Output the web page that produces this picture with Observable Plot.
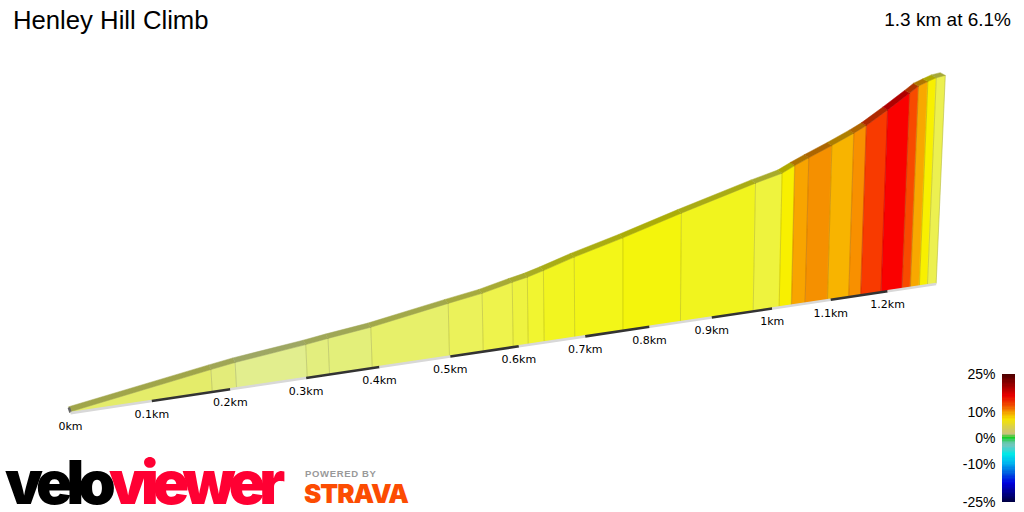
<!DOCTYPE html>
<html><head><meta charset="utf-8">
<script src="https://cdn.jsdelivr.net/npm/d3@7"></script>
<script src="https://cdn.jsdelivr.net/npm/@observablehq/plot@0.6"></script>
<style>
html,body{margin:0;padding:0;background:#fff;width:1024px;height:512px;overflow:hidden}
#root{position:relative;width:1024px;height:512px;font-family:"Liberation Sans",Arial,sans-serif}
#root>div,#root>svg{position:absolute}
#title{left:13px;top:6px;font-size:25.7px;line-height:28px;color:#000}
#sub{right:13px;top:9px;font-size:19px;line-height:22px;color:#000}
.logo{font-family:Inter,sans-serif;font-weight:900;white-space:nowrap;transform-origin:0 0}
#velo{left:5px;top:454px;font-size:60px;line-height:56px;letter-spacing:-5.9px;color:#000}
#velo span{color:#ff0033}
#pow{left:305px;top:468px;font-family:"Liberation Sans",sans-serif;font-size:9.5px;font-weight:700;line-height:12px;letter-spacing:.65px;color:#999}
#strava{left:304px;top:478px;font-size:26px;line-height:32px;letter-spacing:-1px;color:#fc4c02}
</style></head>
<body><div id="root">
<div id="title">Henley Hill Climb</div>
<div id="sub">1.3 km at 6.1%</div>
<div class="logo" id="velo">velo<span>viewer</span></div>
<div id="pow">POWERED BY</div>
<div class="logo" id="strava">STRAVA</div>
</div>
<script>
// boundaries of the profile sections (km) and elevation gained there (m)
const distanceKm = [0,.1766,.208,.3014,.3315,.39,.4988,.5476,.5916,.6139,.6378,.684,.7583,.8493,.9682,1.0118,1.0327,1.0559,1.0944,1.1314,1.1525,1.1886,1.2261,1.2411,1.2574,1.272,1.2879];
const elevationM = [0.3,8.3,9.6,12.4,13.5,15.3,20.0,21.9,24.4,25.5,27.1,30.5,35.1,41.2,48.5,50.8,53.0,55.2,58.6,62.1,64.3,69.1,74.3,76.5,77.7,78.7,79.1];
const sectionColors = ["#e4ec6a","#e3ec7a","#e2ee8e","#e3ee7e","#e3ef7a","#e7f06a","#ebf25a","#eef34c","#eef340","#f1f530","#f2f520","#f3f618","#f4f50c","#f1f41e","#eef33e","#f8f000","#f8a400","#f59000","#f8b400","#f89000","#f83a00","#fa0000","#f84a00","#f8a800","#f8f000","#ecf050"];
const tickKm = [0,.1,.2,.3,.4,.5,.6,.7,.8,.9,1,1.1,1.2];
const tickLabels = ["0km","0.1km","0.2km","0.3km","0.4km","0.5km","0.6km","0.7km","0.8km","0.9km","1km","1.1km","1.2km"];
const legendValues = [25,16.5,12.6,10,7.4,4,1.5,0.2,-1.5,-3,-6.3,-9.6,-13.5,-17.4,-25];
const legendColors = ["#4a0000","#e80000","#f05000","#f4a000","#f6e400","#d8d050","#c8c080","#10d020","#60c8a0","#70c8c0","#00e8e8","#00b8f0","#0060e0","#0000e0","#000040"];
const legendTicks = [25,10,0,-10,-25];

// view projection: far sections are foreshortened, the road tilts, verticals fan out
const foreshorten = .18, roadTilt = 46.94, fanCentre = .667, fanRate = .000368;
const P = d => d / (1 + foreshorten * d);
const Umax = P(distanceKm[distanceKm.length - 1]);
function project(d, h, back = 0) {
  const u0 = P(d), t = u0 / Umax;
  return {
    u: u0 + (u0 - fanCentre) * h * fanRate - back * (.002 + .0041 * t),
    v: roadTilt * u0 + h + back * (1.9 - .85 * t)
  };
}

const faces = [], ribbons = [], edges = [];
sectionColors.forEach((color, i) => {
  const [d0, d1, h0, h1] = [distanceKm[i], distanceKm[i + 1], elevationM[i], elevationM[i + 1]];
  const dark = d3.color(color).darker(1).formatHex();
  [project(d0, 0), project(d1, 0), project(d1, h1), project(d0, h0)]
    .forEach(p => faces.push({...p, seg: i, fill: color}));
  [project(d0, h0), project(d1, h1), project(d1, h1, 1), project(d0, h0, 1)]
    .forEach(p => ribbons.push({...p, seg: i, fill: dark}));
  const a = project(d1, 0), b = project(d1, h1);
  edges.push({u1: a.u, v1: a.v, u2: b.u, v2: b.v});
});
const capA = project(0, 0), capB = project(0, 0, 1);
const startCap = [{u1: capA.u, v1: capA.v, u2: capB.u, v2: capB.v}];

const road = tickKm.flatMap((km, i) => {
  const end = i + 1 < tickKm.length ? tickKm[i + 1] : distanceKm[distanceKm.length - 1];
  return [km, end].map(d => ({...project(d, 0), seg: i, stroke: i % 2 ? "#333333" : "#d8d8d8"}));
});
const labels = tickKm.map((km, i) => ({...project(km, 0), label: tickLabels[i]}));

const main = Plot.plot({
  width: 1024, height: 512, margin: 0,
  x: {domain: [-.08454, 1.1522], axis: null},
  y: {domain: [-38.02, 156.65], axis: null},
  color: {type: "identity"},
  style: {background: "transparent"},
  marks: [
    Plot.line(faces, {x: "u", y: "v", z: "seg", fill: "fill", stroke: "fill", strokeWidth: .5, curve: "linear-closed"}),
    Plot.line(ribbons, {x: "u", y: "v", z: "seg", fill: "fill", stroke: "fill", strokeWidth: .5, curve: "linear-closed"}),
    Plot.link(edges, {x1: "u1", y1: "v1", x2: "u2", y2: "v2", stroke: "#000", strokeOpacity: .14, strokeWidth: 1}),
    Plot.link(startCap, {x1: "u1", y1: "v1", x2: "u2", y2: "v2", stroke: "#666", strokeWidth: 2.5}),
    Plot.line(road, {x: "u", y: "v", z: "seg", stroke: "stroke", strokeWidth: 2.6, dy: .6, strokeLinecap: "butt"}),
    Plot.text(labels, {x: "u", y: "v", text: "label", dy: 14, fill: "#000", fontSize: 11, fontFamily: "DejaVu Sans"})
  ]
});
main.style.left = "0"; main.style.top = "0";

const legendCells = d3.range(-25, 25, .5).map(p => ({y1: p, y2: p + .5, c: p + .25}));
const legend = Plot.plot({
  width: 74, height: 152,
  marginLeft: 52, marginRight: 9, marginTop: 14, marginBottom: 10,
  x: {domain: [0, 1], axis: null},
  y: {domain: [-25, 25]},
  color: {type: "linear", domain: legendValues.slice().reverse(), range: legendColors.slice().reverse(), interpolate: "rgb"},
  style: {background: "transparent", overflow: "visible"},
  marks: [
    Plot.rect(legendCells, {x1: 0, x2: 1, y1: "y1", y2: "y2", fill: "c", shapeRendering: "crispEdges", inset: 0}),
    Plot.axisY(legendTicks, {anchor: "left", tickSize: 0, tickPadding: 7, tickFormat: d => d + "%", fontSize: 14, fontFamily: "Liberation Sans", label: null, fill: "#000"})
  ]
});
legend.style.left = "950px"; legend.style.top = "360px";

const root = document.getElementById("root");
root.insertBefore(main, root.firstChild);
root.appendChild(legend);
</script>
</body></html>
